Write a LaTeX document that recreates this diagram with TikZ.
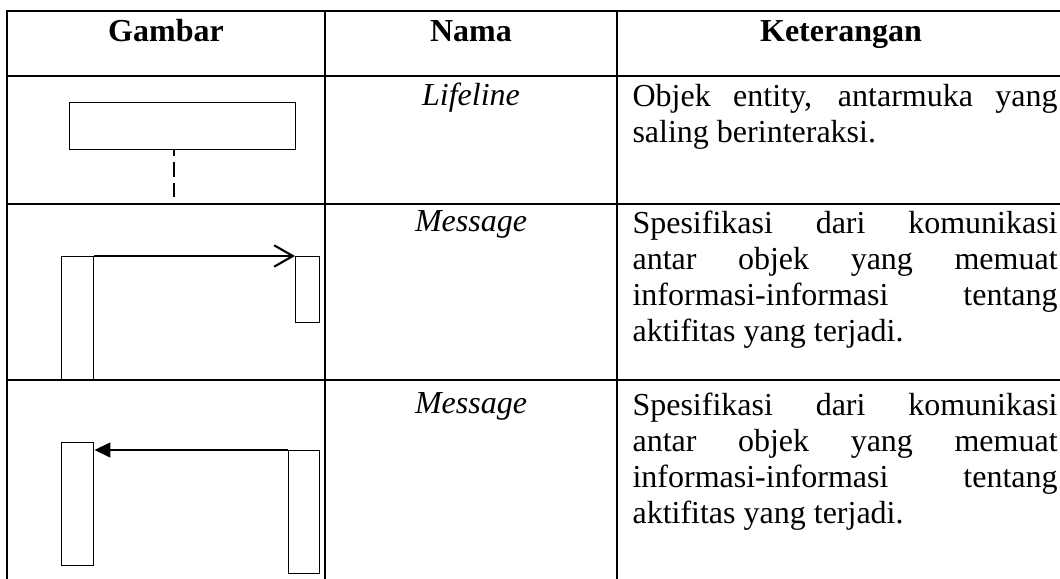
\documentclass[tikz,border=0pt]{standalone}
\usepackage{fontspec}
\setmainfont{Liberation Serif}
\usetikzlibrary{arrows.meta}

\newcommand{\tblfont}{\fontsize{12pt}{13.5pt}\selectfont}
\newcommand{\cellpar}{\tolerance=10000\relax\hbadness=10000\relax\hyphenpenalty=10000\relax}

\tikzset{
  tabline/.style={line width=0.75pt},
  objbox/.style={draw, line width=0.55pt, inner sep=0pt, anchor=north west},
  lifedash/.style={line width=0.55pt, dash pattern=on 5.6pt off 2.25pt, dash phase=3.4pt},
  callmsg/.style={line width=0.75pt, -{Straight Barb[length=7pt,width=8pt,line width=0.8pt]}},
  replymsg/.style={line width=0.7pt, -{Triangle[length=6pt,width=5.6pt]}},
  headtxt/.style={anchor=base, inner sep=0pt, font=\tblfont\bfseries},
  nametxt/.style={anchor=base, inner sep=0pt, font=\tblfont\itshape},
  desctxt/.style={anchor=north west, inner sep=0pt, text width=159.4pt, align=justify, font=\tblfont}
}

\begin{document}
\begin{tikzpicture}[x=0.375pt,y=0.375pt,yscale=-1,xscale=1]
\useasboundingbox (0,0) rectangle (1060,579);

%Table Lines
\draw [tabline] (7,579) -- (7,11) -- (1060,11) ;
\draw [tabline] (7,76) -- (1060,76) ;
\draw [tabline] (7,204) -- (1060,204) ;
\draw [tabline] (7,380) -- (1060,380) ;
\draw [tabline] (325,11) -- (325,579) ;
\draw [tabline] (617,11) -- (617,579) ;

% Header Nodes
\node [headtxt] (hgambar) at (166,42) {Gambar};
\node [headtxt] (hnama) at (471,42) {Nama};
\node [headtxt] (hket) at (841,42) {Keterangan};

%Lifeline
\node [objbox, minimum width=84.75pt, minimum height=17.6pt] (life) at (69,102) {};
\coordinate (lifeend) at (174,197);
\draw [lifedash] (life.south -| lifeend) -- (lifeend) ;

%Message (call)
\node [objbox, minimum width=12pt, minimum height=46.1pt] (actAa) at (61,256) {};
\node [objbox, minimum width=9pt, minimum height=24.75pt] (actAb) at (295,256) {};
\draw [callmsg] (actAa.north east) -- (actAb.north west) ;

%Message (reply)
\node [objbox, minimum width=12pt, minimum height=46.1pt] (actBa) at (61,442) {};
\node [objbox, minimum width=11.6pt, minimum height=46.1pt] (actBb) at (288,450) {};
\draw [replymsg] (actBb.north west) -- (actBa.east |- actBb.north west) ;

% Text Node
\node [nametxt] (nlife) at (471,106) {Lifeline};
% Text Node
\node [nametxt] (nmsgA) at (471,232) {Message};
% Text Node
\node [nametxt] (nmsgB) at (471,414) {Message};

% Text Node
\node [desctxt] (dlife) at (632,84) {\cellpar Objek entity, antarmuka yang\linebreak saling berinteraksi.};
% Text Node
\node [desctxt] (dmsgA) at (632,210) {\cellpar Spesifikasi dari komunikasi\linebreak antar objek yang memuat\linebreak informasi-informasi tentang\linebreak aktifitas yang terjadi.};
% Text Node
\node [desctxt] (dmsgB) at (632,392) {\cellpar Spesifikasi dari komunikasi\linebreak antar objek yang memuat\linebreak informasi-informasi tentang\linebreak aktifitas yang terjadi.};

\end{tikzpicture}
\end{document}
